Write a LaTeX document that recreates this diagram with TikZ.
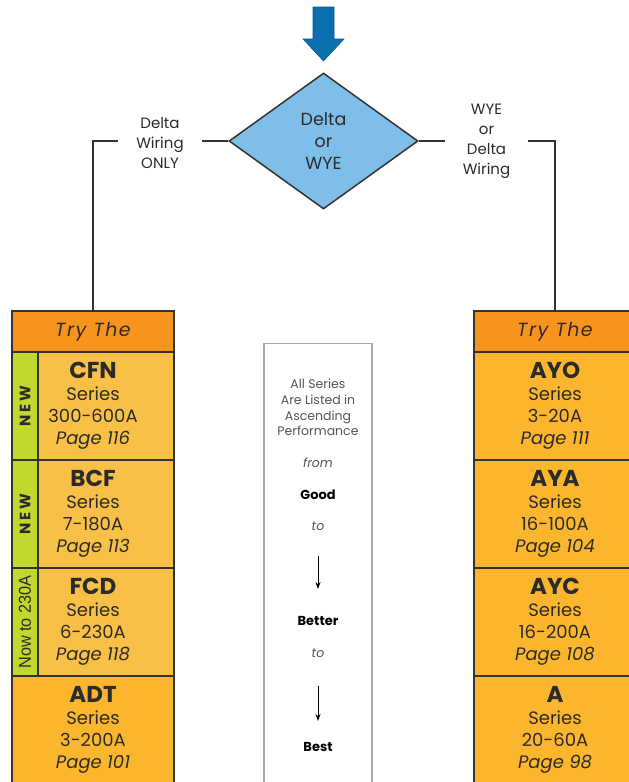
\documentclass[tikz,border=0pt]{standalone}
\usepackage{fontspec}
\setmainfont{Poppins}
\usetikzlibrary{shapes.geometric,arrows.meta}
\definecolor{arrowblue}{HTML}{0A6EAF}
\definecolor{diablue}{HTML}{7EBEE9}
\definecolor{hdror}{HTML}{F7941D}
\definecolor{lightor}{HTML}{F9C047}
\definecolor{rowor}{HTML}{FCB62E}
\definecolor{newgreen}{HTML}{C1D82F}
\definecolor{linegray}{HTML}{333333}
\definecolor{txt}{HTML}{2B2B2B}
\definecolor{midgray}{HTML}{A8A8A8}
\definecolor{midtxt}{HTML}{555555}
\newcommand\rt[3]{{\fontsize{23}{22}\selectfont\bfseries #1}\\Series\\#2\\\textit{Page #3}}
\tikzset{
  conn/.style={draw=linegray, line width=1.5pt},
  lbl/.style={align=center, inner sep=0pt, text=txt, font=\fontsize{15}{20}\selectfont},
  hdr/.style={draw=linegray, line width=1.4pt, fill=hdror, minimum width=162pt, minimum height=41pt, inner sep=0pt, text=txt, font=\fontsize{19}{20}\selectfont\itshape\addfontfeatures{LetterSpace=8}},
  rowbox/.style={draw=linegray, line width=1.4pt, minimum width=162pt, minimum height=108pt, inner sep=0pt, align=center, text=txt, font=\fontsize{18}{22}\selectfont},
  strip/.style={draw=linegray, line width=1.4pt, fill=newgreen, minimum width=26pt, minimum height=108pt, inner sep=0pt},
  newtxt/.style={rotate=90, text=txt, inner sep=0pt, font=\fontsize{15}{15}\selectfont\bfseries\addfontfeatures{LetterSpace=18}},
  mt/.style={align=center, inner sep=0pt, text=midtxt, font=\fontsize{12.5}{15.7}\selectfont},
  mb/.style={inner sep=0pt, text=black, font=\fontsize{13}{15}\selectfont\bfseries},
  smallarrow/.style={draw=black, line width=0.9pt, -{Stealth[length=7pt,width=5pt]}}
}
\begin{document}
\begin{tikzpicture}[x=1pt,y=-1pt]
\path[use as bounding box] (0,0) rectangle (629,782);
\clip (0,0) rectangle (629,782);
\fill[white] (0,0) rectangle (629,782);

% blue entry arrow
\filldraw[fill=arrowblue, draw=arrowblue!80!black, line width=0.6pt]
  (313,7) -- (334,7) -- (334,39) -- (344,39) -- (323.5,61) -- (303,39) -- (313,39) -- cycle;

% decision
\node[diamond, draw=linegray, line width=1.5pt, fill=diablue, minimum width=189pt, minimum height=136pt,
      inner sep=0pt, align=center, text=txt, font=\fontsize{17.5}{22}\selectfont] (dia) at (323.5,141) {Delta\\or\\WYE};

% branch labels
\node[lbl, minimum width=84pt] (dl) at (160,142.5) {Delta\\Wiring\\ONLY};
\node[lbl, minimum width=83pt] (dr) at (486.5,141) {WYE\\or\\Delta\\Wiring};

% left column
\node[hdr] (hL) at (93,331.5) {Try The};
\node[rowbox, fill=lightor] (cfn) at (93,406) {\rt{CFN}{300-600A}{116}};
\node[rowbox, fill=lightor] (bcf) at (93,514) {\rt{BCF}{7-180A}{113}};
\node[rowbox, fill=lightor] (fcd) at (93,622) {\rt{FCD}{6-230A}{118}};
\node[rowbox, fill=rowor] (adt) at (93,730) {\rt{ADT}{3-200A}{101}};
\node[strip] (s1) at (25,406) {};
\node[strip] (s2) at (25,514) {};
\node[strip] (s3) at (25,622) {};
\node[newtxt] (n1) at (25,406) {NEW};
\node[newtxt] (n2) at (25,514) {NEW};
\node[rotate=90, inner sep=0pt, text=txt] (n3) at (25,622) {\resizebox{93pt}{12pt}{\fontspec{Liberation Sans}Now to 230A}};

% right column
\node[hdr] (hR) at (555,331.5) {Try The};
\node[rowbox, fill=rowor] (ayo) at (555,406) {\rt{AYO}{3-20A}{111}};
\node[rowbox, fill=rowor] (aya) at (555,514) {\rt{AYA}{16-100A}{104}};
\node[rowbox, fill=rowor] (ayc) at (555,622) {\rt{AYC}{16-200A}{108}};
\node[rowbox, fill=rowor] (a) at (555,730) {\rt{A}{20-60A}{98}};

% connectors
\draw[conn] (dia.west) -- (dia.west -| dl.east);
\draw[conn] (dl.west |- dia.west) -| (hL.north);
\draw[conn] (dia.east) -- (dia.east -| dr.west);
\draw[conn] (dr.east |- dia.east) -| (hR.north);

% middle legend
\node[draw=midgray, line width=1.2pt, fill=white, minimum width=108pt, minimum height=460pt, anchor=north] (mid) at (318,343) {};
\node[mt] (m1) at (318,407.5) {All Series\\Are Listed in\\Ascending\\Performance};
\node[mt] (from) at (318,463) {\itshape from};
\node[mb] (good) at (318,495) {Good};
\node[mt] (to1) at (318,526) {\itshape to};
\coordinate (a1s) at (318,556);
\coordinate (a1e) at (318,589);
\draw[smallarrow] (a1s) -- (a1e);
\node[mb] (better) at (318,621) {Better};
\node[mt] (to2) at (318,653) {\itshape to};
\coordinate (a2s) at (318,686);
\coordinate (a2e) at (318,721);
\draw[smallarrow] (a2s) -- (a2e);
\node[mb] (best) at (318,747) {Best};
\end{tikzpicture}
\end{document}
